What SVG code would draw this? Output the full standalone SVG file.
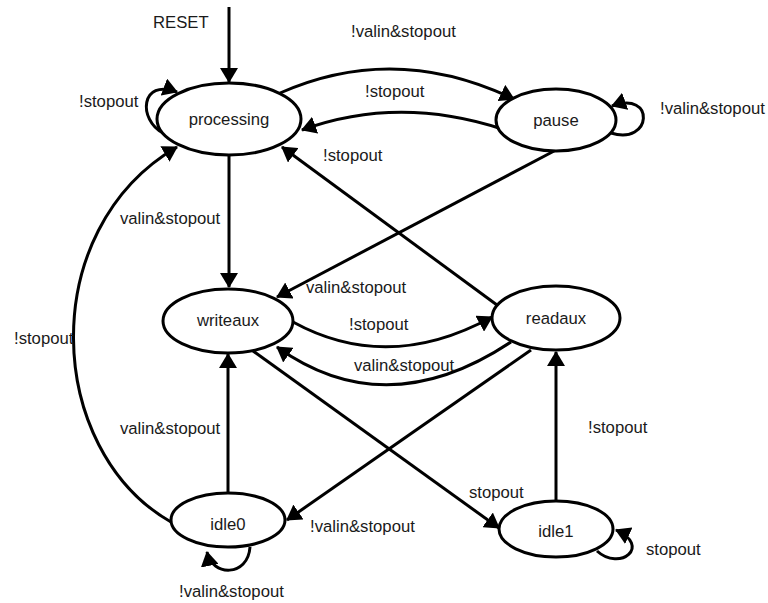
<svg xmlns="http://www.w3.org/2000/svg" width="768" height="603" viewBox="0 0 768 603">
<defs>
<marker id="arr" markerUnits="userSpaceOnUse" markerWidth="15" markerHeight="18" refX="14" refY="9" orient="auto">
<path d="M0,0 L15,9 L0,18 z" fill="#000"/>
</marker>
<style>
.node ellipse{fill:#fff;stroke:#000;stroke-width:3}
text{font-family:"Liberation Sans",Arial,sans-serif;font-size:16.7px;fill:#1a1a1a}
.node text{text-anchor:middle}
#edges path{fill:none;stroke:#000;stroke-width:3;marker-end:url(#arr)}
</style>
</defs>
<rect width="768" height="603" fill="#fff"/>
<g id="edges">
<path d="M229,7 L229,82"/>
<path d="M280,93 Q395,42 514,99"/>
<path d="M502,129 Q398,95 302,130"/>
<path d="M163,133 C138,120 140,78 177,92"/>
<path d="M611,133 C652,146 656,90 612,106"/>
<path d="M229,154 L229,287"/>
<path d="M556,150 L277,297"/>
<path d="M497,305 L282,147"/>
<path d="M293,322 Q388,374 492,317"/>
<path d="M511,342 Q386,425 277,347"/>
<path d="M171,522 C45,450 35,230 177,147"/>
<path d="M228,494 L228,354"/>
<path d="M531,350 L287,520"/>
<path d="M253,351 L499,528"/>
<path d="M556,501 L556,352"/>
<path d="M250,547 C248,577 212,577 207,552"/>
<path d="M597,551 C620,572 652,546 616,530"/>
</g>
<g id="labels">
<text x="153" y="28">RESET</text>
<text x="351" y="37">!valin&amp;stopout</text>
<text x="365" y="97">!stopout</text>
<text x="323" y="161">!stopout</text>
<text x="79" y="107">!stopout</text>
<text x="660" y="114">!valin&amp;stopout</text>
<text x="120" y="224">valin&amp;stopout</text>
<text x="306" y="293">valin&amp;stopout</text>
<text x="349" y="330">!stopout</text>
<text x="354" y="371">valin&amp;stopout</text>
<text x="14" y="344">!stopout</text>
<text x="120" y="434">valin&amp;stopout</text>
<text x="310" y="532">!valin&amp;stopout</text>
<text x="179" y="597">!valin&amp;stopout</text>
<text x="588" y="433">!stopout</text>
<text x="469" y="498">stopout</text>
<text x="646" y="555">stopout</text>
</g>
<g id="processing" class="node"><ellipse cx="229" cy="119" rx="72" ry="36"/><text x="229" y="125">processing</text></g>
<g id="pause" class="node"><ellipse cx="556" cy="120" rx="60" ry="31"/><text x="556" y="126">pause</text></g>
<g id="writeaux" class="node"><ellipse cx="228" cy="321" rx="65" ry="32"/><text x="228" y="326">writeaux</text></g>
<g id="readaux" class="node"><ellipse cx="556" cy="318" rx="64" ry="32"/><text x="556" y="324">readaux</text></g>
<g id="idle0" class="node"><ellipse cx="228" cy="520" rx="57" ry="27"/><text x="228" y="530">idle0</text></g>
<g id="idle1" class="node"><ellipse cx="556" cy="529" rx="57" ry="28"/><text x="556" y="537">idle1</text></g>
</svg>
